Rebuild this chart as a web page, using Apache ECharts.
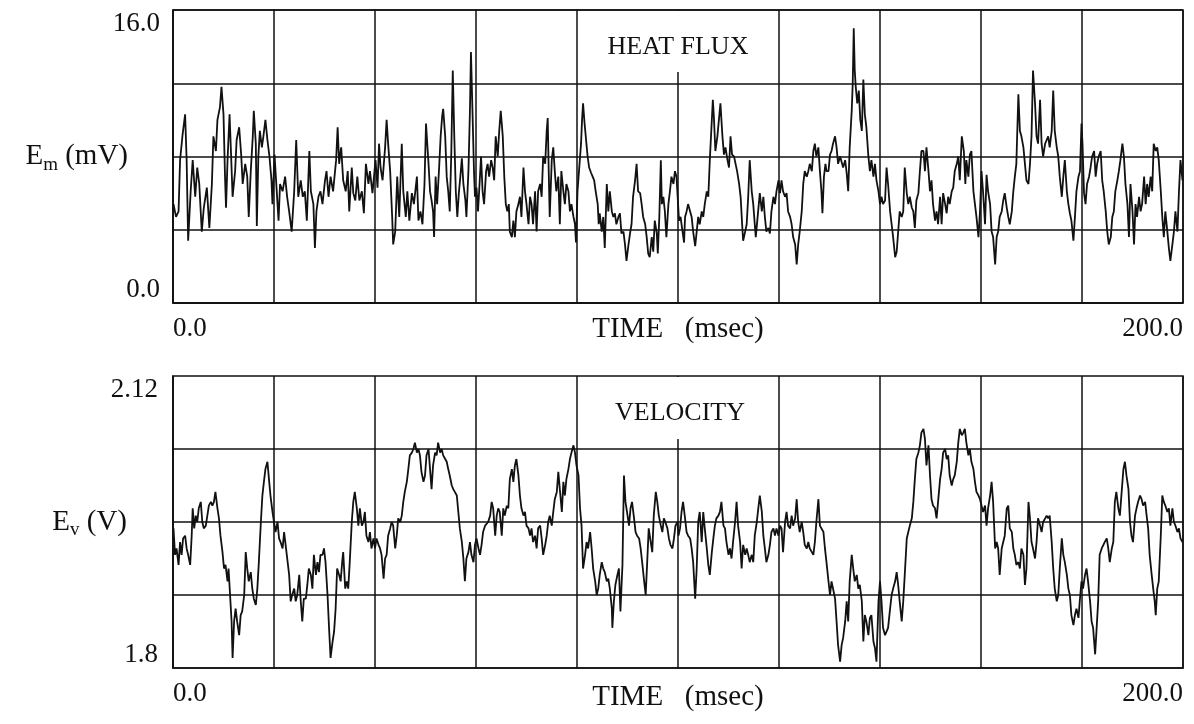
<!DOCTYPE html>
<html>
<head>
<meta charset="utf-8">
<title>Heat flux and velocity</title>
<script src="https://cdn.jsdelivr.net/npm/echarts@6/dist/echarts.min.js"></script>
<style>
  html, body { margin: 0; padding: 0; background: #fff; }
  #chart { width: 1194px; height: 724px; }
</style>
</head>
<body>
<div id="chart"></div>
<script>
// time axis (msec) and readings
var heatTime = [
  0.1,0.6,1.1,1.4,1.9,2.4,2.7,3.0,3.5,3.9,
  4.4,4.8,5.2,5.7,6.1,6.7,7.2,7.7,8.0,8.5,
  8.8,9.3,9.6,10.0,10.3,10.5,10.8,11.2,11.5,11.8,
  12.3,12.6,13.1,13.5,13.8,14.3,14.7,15.0,15.4,15.8,
  16.0,16.4,16.6,16.9,17.2,17.6,17.9,18.3,18.7,19.1,
  19.5,19.7,20.1,20.4,20.7,20.9,21.2,21.7,22.2,22.6,
  23.0,23.5,24.0,24.4,24.8,25.3,25.7,26.1,26.5,27.0,
  27.3,27.8,28.1,28.4,28.8,29.2,29.6,30.1,30.4,30.8,
  31.2,31.7,32.3,32.6,32.9,33.3,33.7,34.2,34.6,34.9,
  35.4,35.7,36.1,36.5,36.9,37.4,37.8,38.2,38.7,39.0,
  39.5,39.8,40.1,40.5,40.8,41.1,41.5,42.0,42.3,42.6,
  43.0,43.4,43.6,44.0,44.4,44.8,45.3,45.6,46.1,46.4,
  46.8,47.3,47.7,48.3,48.6,49.0,49.4,49.8,50.1,50.6,
  50.9,51.2,51.5,51.7,52.0,52.3,52.7,53.0,53.3,53.5,
  53.9,54.2,54.5,54.8,55.1,55.4,55.7,56.0,56.3,56.6,
  56.9,57.2,57.5,57.9,58.1,58.5,58.8,59.0,59.3,59.6,
  59.8,60.1,60.4,60.7,61.0,61.3,61.6,62.0,62.3,62.6,
  63.0,63.3,63.6,63.9,64.3,64.6,64.9,65.3,65.6,65.9,
  66.2,66.5,66.7,67.1,67.4,67.7,68.0,68.4,68.7,69.0,
  69.4,69.7,70.0,70.4,70.7,71.0,71.3,71.7,72.0,72.3,
  72.7,73.0,73.3,73.7,74.0,74.2,74.4,74.6,75.0,75.3,
  75.6,75.9,76.3,76.6,76.9,77.3,77.6,77.9,78.3,78.6,
  78.9,79.3,79.6,79.8,80.1,80.5,80.8,81.0,81.2,81.5,
  81.8,82.1,82.4,82.8,83.1,83.4,83.7,84.1,84.3,84.5,
  84.9,85.2,85.5,85.9,86.2,86.5,86.9,87.2,87.5,87.8,
  88.2,88.5,88.8,89.2,89.5,89.8,90.2,90.5,90.8,91.1,
  91.5,91.8,92.1,92.5,92.8,93.1,93.5,93.8,94.1,94.4,
  94.8,95.1,95.4,95.8,96.0,96.3,96.6,96.8,97.1,97.4,
  97.7,98.1,98.4,98.7,99.1,99.4,99.7,
  100.1,100.2,100.5,100.9,101.2,101.4,101.7,102.0,102.4,102.7,
  103.0,103.4,103.7,104.0,104.3,104.7,105.0,105.3,105.7,106.0,
  106.3,106.7,106.9,107.1,107.4,107.8,108.2,108.4,108.8,109.1,
  109.4,109.8,110.1,110.4,110.7,111.1,111.4,111.7,112.1,112.4,
  112.7,112.9,113.3,113.6,113.9,114.2,114.6,114.9,115.2,115.4,
  115.7,116.0,116.2,116.6,116.9,117.2,117.5,117.9,118.2,118.5,
  118.9,119.2,119.5,119.9,120.2,120.5,120.8,121.2,121.5,121.8,
  122.2,122.5,122.8,123.2,123.5,123.8,124.1,124.5,124.8,125.1,
  125.5,125.8,126.1,126.5,126.8,127.1,127.4,127.8,128.1,128.4,
  128.6,128.9,129.2,129.4,129.8,130.1,130.4,130.7,131.1,131.4,
  131.7,132.1,132.4,132.7,133.1,133.4,133.7,134.0,134.4,134.6,
  134.8,135.0,135.2,135.5,135.8,136.1,136.4,136.7,137.0,137.3,
  137.7,138.0,138.3,138.7,139.0,139.3,139.7,140.0,140.3,140.6,
  141.0,141.3,141.6,142.0,142.3,142.6,143.0,143.3,143.6,143.9,
  144.3,144.6,144.9,145.3,145.6,145.9,146.3,146.6,146.9,147.2,
  147.6,147.9,148.2,148.6,148.9,149.2,149.6,
  149.9,150.2,150.5,150.9,151.2,151.5,151.9,152.2,152.5,152.9,
  153.2,153.5,153.8,154.2,154.5,154.8,155.2,155.5,155.8,156.2,
  156.3,156.6,156.9,157.1,157.5,157.8,158.1,158.5,158.8,159.1,
  159.5,159.8,160.1,160.4,160.8,161.1,161.4,161.8,162.1,162.4,
  162.8,163.1,163.4,163.7,164.1,164.4,164.7,165.1,165.4,165.7,
  166.1,166.4,166.7,167.0,167.4,167.7,168.0,168.4,168.7,169.0,
  169.4,169.7,170.0,170.3,170.7,171.0,171.3,171.7,172.0,172.3,
  172.7,173.0,173.3,173.6,174.0,174.3,174.6,175.0,175.3,175.6,
  176.0,176.3,176.6,177.0,177.3,177.6,177.9,178.3,178.6,178.9,
  179.3,179.6,179.9,180.1,180.4,180.7,181.0,181.4,181.7,182.0,
  182.4,182.7,183.0,183.3,183.7,184.0,184.3,184.7,185.0,185.3,
  185.7,186.0,186.3,186.6,187.0,187.3,187.6,188.0,188.3,188.6,
  189.0,189.3,189.6,190.0,190.3,190.6,190.9,191.3,191.6,191.9,
  192.3,192.6,192.9,193.2,193.6,193.9,194.2,194.6,194.9,195.2,
  195.6,195.9,196.2,196.5,196.9,197.2,197.5,197.9,198.2,198.5,
  198.9,199.2,199.5,199.9
];
var heatFlux = [
  5.4,4.7,5.0,7.8,9.2,10.3,7.8,3.4,6.1,7.8,
  5.8,7.4,6.5,3.9,5.2,6.3,4.1,6.5,9.1,8.3,
  10.0,10.7,11.8,10.3,6.9,5.2,7.8,10.3,8.1,5.8,
  7.2,8.9,9.6,8.1,6.5,7.6,6.9,4.7,7.2,9.1,
  10.5,8.7,4.2,8.0,9.4,8.5,9.1,10.0,8.9,8.0,
  6.7,5.4,8.1,8.0,5.4,4.5,6.5,6.1,6.9,5.8,
  5.0,3.9,6.1,8.9,5.8,6.7,5.8,6.1,4.5,8.3,
  6.1,5.4,3.0,5.0,5.8,6.1,5.4,6.7,7.2,5.8,
  6.9,6.1,7.8,9.6,7.6,8.5,6.7,6.1,7.2,5.0,
  7.4,6.0,5.6,6.9,5.6,6.1,4.9,7.6,6.5,7.2,
  6.0,6.9,7.8,6.3,8.7,7.4,6.7,8.5,10.0,8.7,
  7.2,4.7,3.2,3.9,6.9,4.7,8.7,6.1,4.7,6.1,
  4.5,6.0,5.4,6.9,4.5,5.0,4.3,6.5,9.8,7.6,
  6.1,5.6,5.0,3.6,6.9,5.4,7.4,9.1,10.2,10.6,
  9.1,6.9,6.1,5.0,8.1,12.7,9.1,6.1,4.7,6.0,
  6.9,7.9,6.5,5.6,4.7,7.2,10.5,13.7,10.5,7.2,
  5.8,6.3,5.0,6.5,8.0,6.1,5.4,7.2,7.6,6.9,
  7.8,7.4,6.7,9.1,8.0,9.4,10.5,9.1,6.9,5.4,
  5.0,5.4,3.9,3.6,4.5,3.6,5.0,5.4,5.8,4.7,
  7.4,6.1,5.4,4.3,5.8,5.4,4.3,6.1,3.9,6.1,
  6.5,5.8,8.0,7.6,9.4,10.1,7.2,4.7,7.8,8.5,
  7.2,6.1,6.9,4.3,7.2,6.1,5.4,6.5,6.1,5.0,
  5.4,4.7,4.3,3.3,6.1,7.6,8.7,10.0,10.9,9.8,
  8.9,8.0,7.4,7.1,6.9,6.7,6.1,5.4,4.3,4.9,
  3.9,4.7,3.0,6.5,5.0,6.1,5.0,4.7,4.9,4.3,
  4.7,4.9,3.8,3.9,3.2,2.3,3.2,3.8,4.3,5.8,
  6.7,7.6,6.1,6.0,5.4,4.7,4.3,3.6,2.7,2.5,
  3.6,2.8,4.5,3.8,2.7,4.7,7.8,5.4,5.8,5.0,
  3.6,5.4,6.1,6.9,6.5,7.2,6.9,
  5.0,4.5,4.7,3.9,3.3,4.7,5.0,5.4,5.0,4.7,
  3.9,3.1,3.9,4.7,4.3,5.0,4.7,5.4,6.1,5.8,
  7.8,10.0,11.1,10.2,8.3,9.1,10.3,10.9,9.1,8.1,
  8.5,7.8,7.4,9.1,8.1,8.0,7.6,7.2,6.5,5.8,
  4.3,3.4,3.9,4.3,5.8,7.8,6.1,5.4,4.3,3.6,
  4.5,5.4,6.0,5.0,5.8,4.7,3.9,4.1,3.8,5.0,
  5.8,5.4,6.1,6.7,6.0,6.7,6.1,5.8,6.0,5.0,
  4.7,4.3,3.6,3.2,2.1,3.2,3.9,5.0,6.5,7.2,
  6.9,7.2,7.6,7.2,8.3,8.7,8.0,8.5,7.2,6.1,
  4.9,6.9,7.6,7.2,7.2,8.1,8.3,8.7,9.1,8.5,
  7.6,8.0,8.1,7.4,7.8,7.1,6.1,8.5,10.5,12.0,
  15.0,12.7,11.8,10.9,11.6,10.0,9.4,12.2,10.3,9.6,
  8.0,7.2,7.8,6.9,7.6,6.7,6.1,5.4,5.8,5.4,
  5.6,7.4,6.5,5.0,4.3,3.6,2.5,2.8,3.9,5.0,
  4.7,5.0,7.4,6.0,5.4,5.8,5.2,5.0,4.1,5.6,
  6.0,7.2,8.3,8.3,7.2,8.5,7.2,
  6.1,6.7,5.4,4.5,5.0,4.3,5.8,4.3,6.0,5.4,
  4.9,5.8,5.4,6.1,6.3,7.2,7.6,8.0,6.7,9.1,
  9.2,8.3,6.5,7.8,6.9,8.1,8.3,6.1,5.4,4.7,
  3.6,5.0,7.2,6.1,4.3,7.0,6.1,5.4,3.9,3.6,
  2.1,3.6,3.9,4.7,5.0,5.6,6.0,5.2,4.7,4.3,
  5.0,6.1,6.9,7.6,11.4,9.4,9.1,8.5,7.6,6.7,
  6.5,7.6,9.1,12.7,10.9,9.1,8.7,11.1,8.7,8.0,
  8.7,8.9,9.1,8.5,9.4,11.6,9.4,8.5,8.0,6.9,
  5.8,6.9,7.8,6.1,5.4,4.9,4.5,3.4,4.7,6.1,
  6.9,7.2,9.8,8.7,6.0,5.4,6.5,6.9,7.4,8.0,
  8.3,6.9,7.6,8.0,8.3,6.7,6.1,5.0,3.9,3.2,
  3.6,4.7,5.0,6.1,6.7,7.2,7.8,8.7,8.0,6.5,
  5.4,3.6,6.5,5.0,3.2,5.4,4.7,5.8,5.0,5.4,
  6.9,5.4,6.5,5.8,6.9,6.1,8.7,8.3,8.5,7.8,
  6.1,4.7,3.6,5.0,3.9,3.0,2.3,3.2,3.9,5.0,
  3.9,6.1,7.8,6.7
];

var velTime = [
  0.1,0.4,0.7,1.1,1.4,1.7,2.0,2.4,2.7,3.0,
  3.4,3.7,3.9,4.2,4.5,4.8,5.1,5.5,5.8,6.1,
  6.5,6.8,7.1,7.5,7.8,8.1,8.4,8.8,9.1,9.4,
  9.8,10.1,10.4,10.8,11.0,11.3,11.6,11.8,12.1,12.4,
  12.7,13.1,13.4,13.7,14.1,14.4,14.7,15.0,15.4,15.7,
  16.0,16.4,16.7,17.0,17.4,17.7,18.0,18.3,18.7,19.0,
  19.3,19.7,20.0,20.3,20.7,21.0,21.3,21.7,22.0,22.3,
  22.6,23.0,23.3,23.6,24.0,24.3,24.6,25.0,25.3,25.6,
  25.9,26.3,26.6,26.9,27.3,27.6,27.9,28.3,28.6,28.9,
  29.2,29.6,29.9,30.2,30.6,30.9,31.2,31.6,31.9,32.2,
  32.5,32.9,33.2,33.5,33.7,34.1,34.4,34.7,35.0,35.4,
  35.7,36.0,36.4,36.7,37.0,37.4,37.7,38.0,38.3,38.7,
  39.0,39.3,39.7,40.0,40.3,40.7,41.0,41.3,41.7,42.0,
  42.3,42.6,43.0,43.3,43.6,44.0,44.3,44.6,45.0,45.3,
  45.6,45.9,46.3,46.6,46.9,47.3,47.6,47.9,48.3,48.6,
  48.9,49.2,49.6,49.9,50.2,50.6,
  50.9,51.2,51.5,51.9,52.2,52.5,52.9,53.2,53.5,53.9,
  54.2,54.5,54.8,55.2,55.5,55.8,56.2,56.5,56.8,57.2,
  57.5,57.8,58.1,58.5,58.8,59.1,59.5,59.8,60.1,60.5,
  60.8,61.1,61.4,61.8,62.1,62.4,62.8,63.1,63.4,63.8,
  64.1,64.4,64.7,65.1,65.4,65.7,66.1,66.4,66.7,67.1,
  67.4,67.7,68.0,68.4,68.7,69.0,69.4,69.7,70.0,70.4,
  70.7,71.0,71.3,71.7,72.0,72.3,72.7,73.0,73.3,73.7,
  74.0,74.3,74.6,75.0,75.3,75.6,76.0,76.3,76.6,77.0,
  77.3,77.6,77.9,78.3,78.6,78.9,79.3,79.6,79.9,80.3,
  80.6,80.9,81.2,81.6,81.9,82.2,82.6,82.9,83.2,83.6,
  83.9,84.2,84.5,84.9,85.2,85.5,85.9,86.2,86.5,86.9,
  87.0,87.3,87.6,88.0,88.3,88.6,89.0,89.3,89.6,89.9,
  90.3,90.6,90.9,91.3,91.6,91.9,92.3,92.6,92.9,93.3,
  93.6,93.9,94.2,94.6,94.9,95.2,95.6,95.9,96.2,96.6,
  96.9,97.2,97.5,97.9,98.2,98.5,98.9,99.2,99.5,99.9,
  100.1,100.4,100.7,101.0,101.4,101.7,102.0,102.4,102.7,103.0,
  103.4,103.7,104.0,104.3,104.7,105.0,105.3,105.7,106.0,106.3,
  106.7,107.0,107.3,107.6,108.0,108.3,108.6,109.0,109.3,109.6,
  110.0,110.3,110.6,110.9,111.3,111.6,111.9,112.3,112.6,112.9,
  113.3,113.6,113.9,114.2,114.6,114.9,115.2,115.6,115.9,116.2,
  116.6,116.9,117.2,117.5,117.9,118.2,118.5,118.9,119.2,119.5,
  119.9,120.2,120.5,120.8,121.2,121.5,121.8,122.2,122.5,122.8,
  123.2,123.5,123.8,124.1,124.5,124.8,125.1,125.5,125.8,126.1,
  126.5,126.8,127.1,127.4,127.8,128.1,128.4,128.8,129.1,129.4,
  129.8,130.1,130.4,130.7,131.1,131.4,131.7,132.1,132.4,132.7,
  133.1,133.4,133.7,134.0,134.4,134.7,135.0,135.4,135.7,136.0,
  136.4,136.7,137.0,137.3,137.7,138.0,138.3,138.7,139.0,139.3,
  139.7,140.0,140.3,140.6,141.0,141.3,141.6,142.0,142.3,142.6,
  143.0,143.3,143.6,143.9,144.3,144.6,144.9,145.3,145.6,145.9,
  146.3,146.6,146.9,147.2,147.6,147.9,148.2,148.6,148.9,149.2,
  149.6,
  149.9,150.2,150.5,150.9,151.2,151.5,151.9,152.2,152.5,152.9,
  153.2,153.5,153.8,154.2,154.5,154.8,155.2,155.5,155.8,156.2,
  156.5,156.8,157.1,157.5,157.8,158.1,158.5,158.8,159.1,159.5,
  159.8,160.1,160.4,160.8,161.1,161.4,161.8,162.1,162.4,162.8,
  163.1,163.4,163.7,164.1,164.4,164.7,165.1,165.4,165.7,166.1,
  166.4,166.7,167.0,167.4,167.7,168.0,168.4,168.7,169.0,169.4,
  169.7,170.0,170.3,170.7,171.0,171.3,171.7,172.0,172.3,172.7,
  173.0,173.3,173.6,174.0,174.3,174.6,175.0,175.3,175.6,176.0,
  176.3,176.6,177.0,177.3,177.6,177.9,178.3,178.6,178.9,179.3,
  179.6,179.9,180.2,180.6,180.9,181.2,181.6,181.9,182.2,182.6,
  182.9,183.2,183.5,183.9,184.2,184.5,184.9,185.2,185.5,185.9,
  186.2,186.5,186.8,187.2,187.5,187.8,188.2,188.5,188.8,189.2,
  189.5,189.8,190.1,190.5,190.8,191.1,191.5,191.8,192.1,192.5,
  192.8,193.1,193.4,193.8,194.1,194.4,194.6,194.9,195.2,195.6,
  195.9,196.2,196.5,196.9,197.2,197.5,197.9,198.2,198.5,198.9,
  199.2,199.5,199.9
];
var velocity = [
  1.953,1.924,1.931,1.913,1.938,1.924,1.942,1.945,1.931,1.924,
  1.913,1.945,1.975,1.953,1.967,1.960,1.975,1.982,1.960,1.953,
  1.956,1.967,1.978,1.982,1.978,1.982,1.993,1.975,1.964,1.945,
  1.927,1.909,1.913,1.895,1.909,1.880,1.851,1.811,1.851,1.865,
  1.851,1.836,1.858,1.862,1.880,1.927,1.909,1.895,1.905,1.887,
  1.876,1.869,1.887,1.916,1.960,1.989,2.004,2.018,2.026,2.007,
  1.989,1.971,1.960,1.949,1.960,1.942,1.938,1.931,1.949,1.935,
  1.935,1.902,1.873,1.880,1.887,1.873,1.880,1.902,1.873,1.851,
  1.876,1.876,1.891,1.909,1.902,1.887,1.924,1.902,1.916,1.905,
  1.924,1.924,1.931,1.916,1.880,1.844,1.811,1.829,1.840,1.865,
  1.909,1.902,1.895,1.916,1.927,1.887,1.895,1.887,1.916,1.960,
  1.982,1.993,1.975,1.956,1.975,1.956,1.960,1.971,1.945,1.938,
  1.949,1.931,1.942,1.931,1.942,1.935,1.931,1.924,1.898,1.920,
  1.924,1.945,1.953,1.960,1.956,1.931,1.945,1.964,1.960,1.967,
  1.982,1.993,2.004,2.018,2.033,2.036,2.040,2.047,2.036,2.040,
  2.033,2.015,2.004,2.011,2.033,2.040,
  2.018,1.996,2.022,2.036,2.033,2.047,2.036,2.040,2.033,2.029,
  2.026,2.018,2.011,2.000,1.996,1.993,1.989,1.971,1.953,1.938,
  1.920,1.895,1.920,1.927,1.938,1.924,1.916,1.935,1.942,1.931,
  1.924,1.935,1.949,1.956,1.956,1.960,1.967,1.982,1.975,1.945,
  1.967,1.975,1.971,1.945,1.975,1.967,1.978,1.975,2.007,2.018,
  2.004,2.022,2.029,2.011,1.989,1.975,1.967,1.971,1.956,1.953,
  1.945,1.953,1.938,1.945,1.931,1.953,1.956,1.942,1.924,1.935,
  1.945,1.960,1.967,1.956,1.971,1.985,1.993,2.015,1.996,1.971,
  2.004,1.989,2.007,2.018,2.029,2.036,2.044,2.036,2.022,2.011,
  1.975,1.956,1.909,1.924,1.938,1.931,1.949,1.931,1.909,1.895,
  1.880,1.887,1.902,1.916,1.909,1.905,1.895,1.898,1.887,1.865,
  1.844,1.873,1.891,1.902,1.909,1.862,1.913,2.011,1.982,1.971,
  1.956,1.975,1.982,1.964,1.949,1.945,1.942,1.931,1.916,1.895,
  1.880,1.916,1.953,1.938,1.927,1.967,1.993,1.982,1.967,1.956,
  1.949,1.964,1.960,1.953,1.942,1.935,1.931,1.942,1.956,1.960,
  1.945,1.953,1.971,1.982,1.964,1.949,1.945,1.942,1.931,1.916,
  1.876,1.909,1.960,1.971,1.938,1.971,1.953,1.931,1.913,1.902,
  1.927,1.942,1.956,1.964,1.967,1.971,1.982,1.956,1.953,1.938,
  1.924,1.931,1.920,1.938,1.960,1.982,1.956,1.938,1.909,1.935,
  1.924,1.931,1.924,1.916,1.924,1.916,1.945,1.960,1.975,1.989,
  1.971,1.945,1.931,1.916,1.924,1.935,1.949,1.953,1.945,1.953,
  1.945,1.956,1.953,1.927,1.960,1.971,1.956,1.953,1.967,1.956,
  1.964,1.985,1.960,1.949,1.960,1.949,1.935,1.931,1.938,1.931,
  1.927,1.924,1.938,1.960,1.985,1.956,1.956,1.949,1.931,1.916,
  1.895,1.880,1.895,1.887,1.876,1.851,1.825,1.807,1.825,1.833,
  1.851,1.873,1.851,1.895,1.924,1.909,1.895,1.902,1.887,1.891,
  1.873,1.829,1.858,1.851,1.836,1.855,1.858,1.829,1.822,1.807,
  1.873,1.895,1.873,1.844,1.836,1.840,1.844,1.865,1.880,1.887,
  1.895,1.905,1.891,1.873,1.851,1.873,1.902,1.942,1.949,1.956,
  1.964,1.982,2.007,2.029,2.036,2.044,2.058,2.062,2.051,2.022,
  2.044,
  2.011,1.985,1.978,1.975,1.964,1.982,2.007,2.018,2.036,2.040,
  2.029,2.033,2.011,2.000,2.007,2.011,2.026,2.047,2.062,2.055,
  2.058,2.062,2.047,2.033,2.040,2.026,2.018,2.004,1.993,1.989,
  1.985,1.978,1.971,1.978,1.956,1.975,1.989,2.004,1.982,1.931,
  1.938,1.931,1.902,1.931,1.938,1.945,1.975,1.978,1.953,1.949,
  1.931,1.924,1.913,1.916,1.909,1.931,1.924,1.891,1.909,1.982,
  1.964,1.938,1.931,1.920,1.938,1.964,1.956,1.949,1.960,1.964,
  1.967,1.964,1.967,1.938,1.909,1.887,1.873,1.880,1.909,1.942,
  1.924,1.916,1.902,1.887,1.880,1.858,1.847,1.858,1.865,1.855,
  1.876,1.895,1.887,1.902,1.909,1.895,1.873,1.851,1.844,1.815,
  1.844,1.873,1.924,1.931,1.931,1.938,1.942,1.931,1.916,1.931,
  1.938,1.982,1.993,1.975,1.967,1.989,2.018,2.026,2.011,1.996,
  1.960,1.945,1.938,1.967,1.975,1.982,1.989,1.985,1.978,1.982,
  1.967,1.953,1.924,1.902,1.887,1.873,1.858,1.887,1.895,1.945,
  1.989,1.982,1.978,1.971,1.975,1.956,1.975,1.960,1.956,1.949,
  1.953,1.942,1.938
];

var timeTickLabels = ['0.0', '200.0'];
var heatTickLabels = ['0.0', '16.0'];
var velTickLabels = ['1.8', '2.12'];
var velGridLines = [1.88, 1.96, 2.04];

var ink = '#111';
var serif = 'Liberation Serif';

function pairs(xs, ys) {
    return xs.map(function (x, i) { return [x, ys[i]]; });
}

function near(a, b) {
    return Math.abs(a - b) < 1e-6;
}

function timeAxis(gridIndex, gap) {
    return {
        type: 'value',
        gridIndex: gridIndex,
        min: 0,
        max: 200,
        interval: 20,
        axisLine: { show: true, lineStyle: { color: ink, width: 1.5 } },
        axisTick: { show: false },
        splitLine: { show: true, lineStyle: { color: ink, width: 1.5 } },
        axisLabel: {
            margin: 12,
            color: ink,
            fontFamily: serif,
            fontSize: 27,
            alignMinLabel: 'left',
            alignMaxLabel: 'right',
            formatter: function (v) {
                if (near(v, 0)) return timeTickLabels[0];
                if (near(v, 200)) return timeTickLabels[1];
                return '';
            }
        },
        name: 'TIME   (msec)',
        nameLocation: 'middle',
        nameGap: gap,
        nameMoveOverlap: false,
        nameTextStyle: { color: ink, fontFamily: serif, fontSize: 29, verticalAlign: 'top' }
    };
}

function nameRich() {
    return {
        e: { fontFamily: serif, fontSize: 29, color: ink, lineHeight: 36 },
        s: { fontFamily: serif, fontSize: 19, color: ink, lineHeight: 14, verticalAlign: 'bottom' }
    };
}

var chart = echarts.init(document.getElementById('chart'));

var option = {
    backgroundColor: '#fff',
    animation: false,
    title: [
        {
            text: 'HEAT FLUX',
            left: 668, top: 11, textAlign: 'center',
            backgroundColor: '#fff',
            padding: [23, 10, 12, 10],
            textStyle: { color: ink, fontFamily: serif, fontSize: 26, fontWeight: 'normal' }
        },
        {
            text: 'VELOCITY',
            left: 670, top: 377, textAlign: 'center',
            backgroundColor: '#fff',
            padding: [23, 10, 13, 10],
            textStyle: { color: ink, fontFamily: serif, fontSize: 26, fontWeight: 'normal' }
        }
    ],
    grid: [
        { left: 173, top: 10, width: 1010, height: 293, outerBoundsMode: 'none', show: true, borderColor: ink, borderWidth: 1.5, backgroundColor: 'transparent' },
        { left: 173, top: 376, width: 1010, height: 292, outerBoundsMode: 'none', show: true, borderColor: ink, borderWidth: 1.5, backgroundColor: 'transparent' }
    ],
    xAxis: [timeAxis(0, 12), timeAxis(1, 15)],
    yAxis: [
        {
            type: 'value',
            gridIndex: 0,
            min: 0,
            max: 16,
            interval: 4,
            axisLine: { show: true, lineStyle: { color: ink, width: 1.5 } },
            axisTick: { show: false },
            splitLine: { show: true, lineStyle: { color: ink, width: 1.5 } },
            axisLabel: {
                margin: 13,
                color: ink,
                fontFamily: serif,
                fontSize: 27,
                verticalAlignMinLabel: 'bottom',
                verticalAlignMaxLabel: 'top',
                formatter: function (v) {
                    if (near(v, 0)) return heatTickLabels[0];
                    if (near(v, 16)) return heatTickLabels[1];
                    return '';
                }
            },
            name: '{e|E}{s|m}{e| (mV)}',
            nameLocation: 'middle',
            nameRotate: 0,
            nameGap: 45,
            nameMoveOverlap: false,
            nameTextStyle: { align: 'right', rich: nameRich() }
        },
        {
            type: 'value',
            gridIndex: 1,
            min: 1.8,
            max: 2.12,
            interval: 0.04,
            axisLine: { show: true, lineStyle: { color: ink, width: 1.5 } },
            axisTick: { show: false },
            splitLine: { show: false },
            axisLabel: {
                margin: 15,
                color: ink,
                fontFamily: serif,
                fontSize: 27,
                verticalAlignMinLabel: 'bottom',
                verticalAlignMaxLabel: 'top',
                formatter: function (v) {
                    if (near(v, 1.8)) return velTickLabels[0];
                    if (near(v, 2.12)) return velTickLabels[1];
                    return '';
                }
            },
            name: '{e|E}{s|v}{e| (V)}',
            nameLocation: 'middle',
            nameRotate: 0,
            nameGap: 46,
            nameMoveOverlap: false,
            nameTextStyle: { align: 'right', rich: nameRich() }
        }
    ],
    series: [
        {
            name: 'Heat flux',
            type: 'line',
            xAxisIndex: 0,
            yAxisIndex: 0,
            data: pairs(heatTime, heatFlux),
            showSymbol: false,
            lineStyle: { color: ink, width: 1.8 }
        },
        {
            name: 'Velocity',
            type: 'line',
            xAxisIndex: 1,
            yAxisIndex: 1,
            data: pairs(velTime, velocity),
            showSymbol: false,
            lineStyle: { color: ink, width: 1.8 },
            markLine: {
                silent: true,
                symbol: 'none',
                label: { show: false },
                lineStyle: { color: ink, width: 1.5, type: 'solid' },
                data: velGridLines.map(function (v) { return { yAxis: v }; })
            }
        }
    ]
};

chart.setOption(option);
</script>
</body>
</html>
